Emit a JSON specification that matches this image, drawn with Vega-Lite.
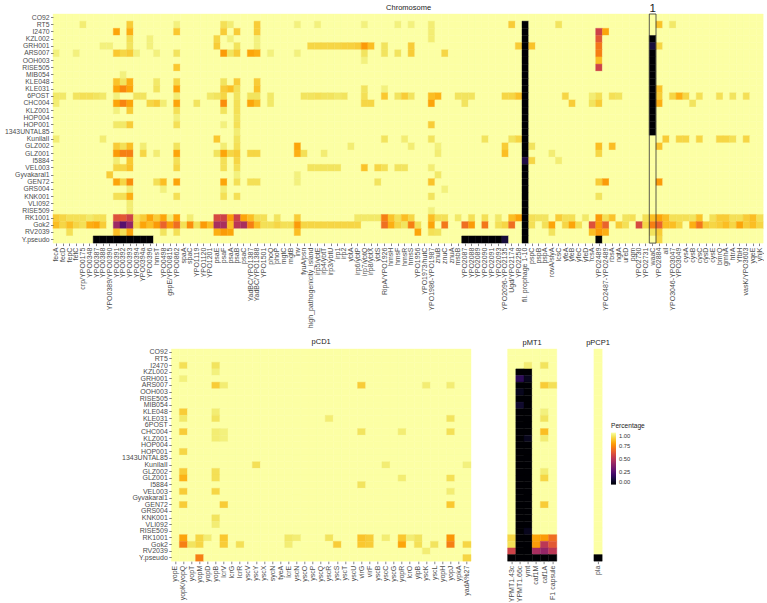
{
"$schema":"https://vega.github.io/schema/vega-lite/v6.json",
"padding":{"left":4,"top":2,"right":0,"bottom":0},
"background":"white",
"config":{
 "font":"Liberation Sans",
 "view":{"stroke":null},
 "axis":{"domain":false,"grid":false,"labelFontSize":7,"labelColor":"#4d4d4d","tickColor":"#333333","tickSize":2.5,"tickWidth":0.6,"labelPadding":1.5,"labelOverlap":false},
 "axisX":{"labelAngle":-90},
 "title":{"fontSize":7.5,"fontWeight":"normal","color":"#1a1a1a","offset":2}
},
"datasets":{
"chrGenes":[{"i":1,"g":"fecA"},{"i":2,"g":"fecD"},{"i":3,"g":"fepC"},{"i":4,"g":"fetC"},{"i":5,"g":"crp/YPO0175"},{"i":6,"g":"YPO0348"},{"i":7,"g":"YPO0387"},{"i":8,"g":"YPO0388"},{"i":9,"g":"YPO0389/YPO0390"},{"i":10,"g":"YPO0391"},{"i":11,"g":"YPO0392"},{"i":12,"g":"YPO0393"},{"i":13,"g":"YPO0394"},{"i":14,"g":"YPO0394a"},{"i":15,"g":"YPO0396"},{"i":16,"g":"hmsT"},{"i":17,"g":"YPO0498"},{"i":18,"g":"gspE/YPO0815"},{"i":19,"g":"YPO0862"},{"i":20,"g":"spaA"},{"i":21,"g":"spaC"},{"i":22,"g":"YPO1119"},{"i":23,"g":"YPO1120"},{"i":24,"g":"YPO1201"},{"i":25,"g":"psaE"},{"i":26,"g":"psaF"},{"i":27,"g":"psaA"},{"i":28,"g":"psaB"},{"i":29,"g":"psaC"},{"i":30,"g":"YadBC/YPO1387"},{"i":31,"g":"YadBC/YPO1388"},{"i":32,"g":"YPO1501"},{"i":33,"g":"phoQ"},{"i":34,"g":"phoP"},{"i":35,"g":"mgtC"},{"i":36,"g":"mgtB"},{"i":37,"g":"inv"},{"i":38,"g":"fyuA/psn"},{"i":39,"g":"high_pathogenicity_island"},{"i":40,"g":"irp5/ybtE"},{"i":41,"g":"irp4/ybtT"},{"i":42,"g":"irp3/ybtU"},{"i":43,"g":"irp1"},{"i":44,"g":"irp2"},{"i":45,"g":"ybtA"},{"i":46,"g":"irp6/ybtP"},{"i":47,"g":"irp7/ybtQ"},{"i":48,"g":"irp8/ybtX"},{"i":49,"g":"ybtS"},{"i":50,"g":"RipA/YPO1926"},{"i":51,"g":"hmsH"},{"i":52,"g":"hmsF"},{"i":53,"g":"hmsR"},{"i":54,"g":"hmsS"},{"i":55,"g":"YPO1956"},{"i":56,"g":"YPO1973/hutC"},{"i":57,"g":"YPO1986-YPO1987"},{"i":58,"g":"znuB"},{"i":59,"g":"znuC"},{"i":60,"g":"znuA"},{"i":61,"g":"msbB"},{"i":62,"g":"YPO2087"},{"i":63,"g":"YPO2088"},{"i":64,"g":"YPO2089"},{"i":65,"g":"YPO2090"},{"i":66,"g":"YPO2091"},{"i":67,"g":"YPO2093"},{"i":68,"g":"YPO2096-YPO2135"},{"i":69,"g":"Ugd/YPO2174"},{"i":70,"g":"YPO2258"},{"i":71,"g":"fil. prophage 1-10"},{"i":72,"g":"pspC"},{"i":73,"g":"pspB"},{"i":74,"g":"pspA"},{"i":75,"g":"rovA/slyA"},{"i":76,"g":"lcsC"},{"i":77,"g":"yfeA"},{"i":78,"g":"yfeB"},{"i":79,"g":"yfeC"},{"i":80,"g":"yfeD"},{"i":81,"g":"rcsA"},{"i":82,"g":"YPO2489"},{"i":83,"g":"YPO2487-YPO2489"},{"i":84,"g":"rbsA"},{"i":85,"g":"ngtA"},{"i":86,"g":"ureD"},{"i":87,"g":"pgm"},{"i":88,"g":"YPO2730"},{"i":89,"g":"YPO2731"},{"i":90,"g":"waaC"},{"i":91,"g":"YPO2884"},{"i":92,"g":"ail"},{"i":93,"g":"YPO3046-YPO3047"},{"i":94,"g":"YPO3049"},{"i":95,"g":"cysA"},{"i":96,"g":"cysB"},{"i":97,"g":"cysC"},{"i":98,"g":"cysD"},{"i":99,"g":"cysE"},{"i":100,"g":"bmrQ"},{"i":101,"g":"gmhA"},{"i":102,"g":"htrA"},{"i":103,"g":"YfbH"},{"i":104,"g":"vasK/YPO3603"},{"i":105,"g":"yqeE"},{"i":106,"g":"yhjK"}],
"chr":[
{"s":"CO92","v":[1,1,1,1,1,1,1,1,1,1,1,1,1,1,1,1,1,1,1,1,1,1,1,1,1,1,1,1,1,1,1,1,1,1,1,1,1,1,1,1,1,1,1,1,1,1,1,1,1,1,1,1,1,1,1,1,1,1,1,1,1,1,1,1,1,1,1,1,1,1,1,1,1,1,1,1,1,1,1,1,1,1,1,1,1,1,1,1,1,1,1,1,1,1,1,1,1,1,1,1,1,1,1,1,1,1]},
{"s":"RT5","v":[1,1,1,1,0.95,1,1,1,1,1, 1,0.88,1,1,1,1,1,1,0.96,1, 1,1,1,1,1,0.92,0.95,1,1,1, 0.88,1,1,1,1,1,0.96,1,1,0.96, 1,1,1,1,1,1,0.96,1,1,1, 1,0.96,1,0.96,1,1,0.95,1,1,1, 1,1,1,1,1,1,1,1,0.88,1, 0,1,1,1,1,0.93,1,1,1,1, 1,1,1,1,1,1,1,1,1,1, 0.86,1,0.94,1,1,1,1,1,1,1, 1,1,1,1,1,1]},
{"s":"I2470","v":[1,1,1,1,1,1,1,1,1,0.8, 1,0.82,1,1,1,1,1,1,0.87,1, 1,1,1,1,1,0.88,1,0.88,1,1, 0.88,1,1,1,1,1,1,1,1,1, 1,1,1,1,1,1,1,1,1,1, 1,1,1,1,1,1,0.95,1,1,1, 1,1,1,1,1,1,1,1,1,1, 0,1,1,1,1,1,1,1,1,1, 1,0.55,0.8,1,1,1,1,1,1,1, 1,1,1,1,1,1,1,1,1,1, 1,1,1,1,1,1]},
{"s":"KZL002","v":[1,1,1,1,1,1,1,1,1,1, 1,0.92,1,1,0.96,1,1,1,1,1, 1,1,1,1,0.9,1,0.96,1,1,1, 0.96,1,1,1,1,1,1,1,1,1, 1,1,1,1,1,1,1,1,1,1, 1,1,1,1,1,1,0.95,1,1,1, 1,1,1,1,1,1,1,1,1,1, 0,1,1,1,1,1,1,1,1,1, 1,0.62,1,1,1,1,1,1,1,0, 1,1,1,1,1,1,1,1,1,1, 1,1,1,1,1,1]},
{"s":"GRH001","v":[1,1,1,1,1,1,1,0.96,0.96,1, 1,0.93,1,1,0.96,1,1,1,1,1, 1,1,1,1,0.88,1,1,0.93,1,1, 0.96,1,1,1,1,1,1,1,0.9,0.9, 0.9,0.9,0.9,0.89,0.89,0.88,0.78,0.85,1,0.93, 1,1,1,0.88,1,1,1,1,1,1, 1,1,1,1,1,1,1,1,1,0.88, 0,0.86,1,1,1,1,1,1,1,1, 1,0.7,1,1,1,1,1,1,1,0.1, 0.9,1,1,1,1,1,1,1,1,1, 1,1,1,1,1,1]},
{"s":"ARS007","v":[0.96,1,1,0.96,1,1,1,1,1,0.87, 0.9,0.88,0.96,1,1,0.96,1,1,0.93,1, 1,1,1,1,1,0.78,0.93,0.88,1,0.8, 0.82,1,0.96,1,1,1,0.96,1,1,1, 1,1,1,1,1,1,0.93,1,1,0.93, 1,0.93,1,0.88,1,1,1,1,0.9,1, 1,1,1,1,1,1,1,1,1,1, 0,1,1,1,1,1,1,1,1,1, 1,0.72,1,1,1,1,1,1,1,0, 1,1,1,1,1,1,1,1,1,1, 1,1,1,1,1,1]},
{"s":"OOH003","v":[1,1,1,1,1,1,1,1,1,1, 1,1,1,1,1,1,1,1,1,1, 1,1,1,1,1,1,1,1,1,1, 1,1,1,1,1,1,1,1,1,1, 1,1,1,1,1,1,0.96,1,1,1, 1,1,1,1,1,1,1,1,1,1, 1,1,1,1,1,1,1,1,1,1, 0,1,1,1,1,1,1,1,1,1, 1,0.85,1,1,1,1,1,1,1,0, 1,1,1,1,1,1,1,1,1,1, 1,1,1,1,1,1]},
{"s":"RISE505","v":[1,1,1,1,1,1,1,1,1,1, 1,1,1,1,1,1,1,1,0.87,1, 1,1,1,1,1,1,1,1,1,1, 1,1,1,1,1,1,1,1,1,1, 1,1,1,1,1,1,1,1,1,1, 1,1,1,1,1,1,1,1,1,1, 1,1,1,1,1,1,1,1,1,1, 0,1,1,1,1,1,1,1,1,1, 1,0.55,1,1,1,1,1,1,1,0, 1,1,1,1,1,1,1,1,1,1, 1,1,1,1,1,1]},
{"s":"MIB054","v":[1,1,1,1,1,1,1,1,1,1, 0.96,1,1,1,1,1,1,1,1,1, 1,1,1,1,1,1,1,1,1,1, 1,1,1,1,1,1,1,1,1,1, 1,1,1,1,1,1,1,1,1,1, 1,1,1,1,1,1,1,1,1,1, 1,1,1,1,1,1,1,1,1,1, 0,1,1,1,1,1,1,1,1,1, 1,1,1,1,1,1,1,1,1,0, 1,1,1,1,1,1,1,1,1,1, 1,1,1,1,1,1]},
{"s":"KLE048","v":[1,1,1,1,1,1,1,1,1,0.86, 0.93,0.82,1,1,1,0.94,1,1,0.9,1, 1,1,1,1,1,0.93,1,0.88,1,1, 0.88,1,1,1,1,1,1,1,1,1, 1,1,1,1,1,1,1,1,1,1, 1,1,1,1,1,1,1,1,1,1, 1,1,1,1,1,1,1,1,1,1, 0,1,1,1,1,1,1,1,1,1, 1,1,1,1,1,1,1,1,1,0, 1,1,1,1,1,1,1,1,1,1, 1,1,1,1,1,1]},
{"s":"KLE031","v":[1,1,1,1,1,1,1,1,1,0.8, 0.74,0.8,1,1,1,0.93,1,1,0.8,1, 1,1,1,1,1,0.88,0.85,0.92,1,1, 0.86,1,1,1,1,1,1,1,1,1, 1,1,1,1,1,1,0.93,1,1,0.96, 1,1,1,1,1,1,1,1,1,1, 1,1,1,1,1,1,1,1,1,1, 0,1,1,1,1,1,1,1,1,1, 1,1,1,1,1,1,1,1,1,0, 0.86,1,1,1,1,1,1,1,1,1, 1,1,1,1,1,1]},
{"s":"6POST","v":[0.94,0.94,1,0.93,0.92,0.92,0.93,0.94,1,0.96, 1,1,0.93,0.93,1,1,1,1,0.95,1, 1,1,1,0.94,0.93,0.9,1,0.93,1,0.93, 0.93,1,0.94,1,1,1,1,0.93,0.93,0.92, 0.93,0.93,0.94,0.93,1,1,0.92,1,1,0.87, 1,0.93,0.88,0.93,1,1,0.85,0.83,1,1, 0.93,0.93,0.93,1,1,1,1,0.9,0.9,0.86, 0,1,1,1,1,1,0.9,1,1,1, 0.95,0.92,1,0.92,0.93,1,1,1,1,0, 0.88,1,0.9,0.82,0.9,1,0.92,1,1,0.92, 1,0.93,1,0.92,1,1]},
{"s":"CHC004","v":[0.95,1,1,1,1,1,1,1,1,0.8, 0.73,0.8,1,1,0.9,0.88,0.95,1,0.8,1, 1,0.93,1,1,1,0.75,1,0.92,1,0.8, 0.85,1,0.94,1,1,1,1,1,1,1, 1,1,1,1,1,1,0.9,0.9,1,1, 1,1,1,1,1,1,0.8,1,1,1, 1,0.93,1,1,1,1,1,1,1,1, 0,1,1,1,1,1,1,0.88,1,1, 0.93,0.88,1,1,1,1,1,1,1,0, 0.82,1,1,1,1,0.93,1,1,1,1, 1,1,1,1,1,1]},
{"s":"KLZ001","v":[1,1,1,1,1,1,1,1,1,0.96, 1,0.88,1,1,1,1,1,1,0.92,1, 1,1,1,1,1,0.93,1,0.92,1,1, 1,1,1,1,1,1,1,1,1,1, 1,1,1,1,1,1,1,1,1,1, 1,1,1,1,1,1,1,1,1,1, 1,1,1,1,1,1,1,1,1,1, 0,1,1,1,1,1,1,1,1,1, 1,1,1,1,1,1,1,1,1,0, 1,1,1,1,1,1,1,1,1,1, 1,1,1,1,1,1]},
{"s":"HOP004","v":[1,1,1,1,1,1,1,1,1,1, 1,1,1,1,1,1,1,1,0.96,1, 1,1,1,1,1,1,1,0.93,1,1, 1,1,1,1,1,1,1,1,1,1, 1,1,1,1,1,1,1,1,1,1, 1,1,1,1,1,1,1,1,1,1, 1,1,1,1,1,1,1,1,1,1, 0,1,1,1,1,1,1,1,1,1, 1,1,1,1,1,1,1,1,1,0, 1,1,1,1,1,1,1,1,1,1, 1,1,1,1,1,1]},
{"s":"HOP001","v":[1,1,1,1,1,1,1,1,1,0.94, 0.94,0.88,1,1,1,1,1,1,0.92,1, 1,1,1,1,1,0.96,1,0.92,1,1, 1,1,1,1,1,1,1,1,1,1, 1,1,1,1,1,1,1,1,1,1, 1,1,1,1,1,1,0.88,1,1,1, 1,1,1,1,1,1,1,1,1,1, 0,1,1,1,1,1,1,1,1,1, 1,1,1,1,1,1,1,1,1,0, 1,1,1,1,1,1,1,1,1,1, 1,1,1,1,1,1]},
{"s":"1343UNTAL85","v":[1,1,1,1,1,1,1,1,1,1, 1,1,1,1,1,1,1,1,1,1, 1,1,1,1,1,1,1,0.95,1,1, 1,1,1,1,1,1,1,1,1,1, 1,1,1,1,1,1,1,1,1,1, 1,1,1,1,1,1,1,1,1,1, 1,1,1,1,1,1,1,1,1,1, 0,1,1,1,1,1,1,1,1,1, 1,1,1,1,1,1,1,1,1,0, 1,1,1,1,1,1,1,1,1,1, 1,1,1,1,1,1]},
{"s":"KunilaII","v":[0.95,1,1,1,1,1,1,0.95,1,1, 1,1,1,1,1,1,1,1,1,1, 1,1,1,1,0.87,1,1,0.93,1,1, 1,1,1,1,1,1,1,1,1,1, 1,1,1,1,1,1,1,1,1,0.93, 1,1,0.95,1,1,1,0.93,1,1,1, 1,1,1,1,0.93,1,1,1,0.93,0.9, 0,1,1,1,1,1,1,1,1,1, 1,1,1,1,1,1,1,1,1,1, 1,0.88,1,0.9,0.9,1,0.9,1,1,0.9, 0.9,0.92,1,0.9,1,1]},
{"s":"GLZ002","v":[1,1,1,1,1,1,1,1,1,0.88, 0.92,0.85,1,0.95,1,1,1,1,0.93,1, 1,1,1,1,1,0.95,1,0.92,1,1, 1,1,1,1,1,1,0.8,1,1,1, 1,1,1,1,0.95,1,1,1,1,1, 1,1,1,0.95,1,1,1,0.96,1,1, 1,1,1,1,1,1,1,0.88,1,1, 0,0.93,1,1,1,1,1,1,1,1, 1,0.85,1,0.85,1,1,1,1,1,1, 0.86,1,1,1,1,1,1,1,1,1, 1,1,1,1,1,1]},
{"s":"GLZ001","v":[1,1,1,1,1,1,1,1,1,0.78, 0.72,0.72,1,0.9,1,0.95,1,1,0.8,1, 1,1,1,1,0.93,0.8,0.9,0.88,1,0.9, 0.9,1,1,1,1,1,0.82,0.92,1,1, 0.95,1,1,1,1,1,1,1,1,1, 1,1,1,1,1,1,1,0.95,1,1, 1,1,1,1,1,1,1,0.85,1,1, 0,1,1,1,0.95,1,1,1,1,1, 1,0.9,1,1,1,1,1,1,1,1, 1,1,1,1,1,1,1,1,1,1, 1,1,1,1,1,1]},
{"s":"I5884","v":[1,1,1,1,1,1,1,1,1,0.95, 1,0.87,1,1,1,1,1,1,0.92,1, 1,1,1,1,1,0.92,1,0.9,1,1, 1,1,1,1,1,1,1,1,1,1, 1,1,1,1,1,1,1,1,1,1, 1,1,1,1,1,1,1,1,1,1, 1,1,1,1,1,1,1,1,1,1, 0.12,0.9,1,1,1,0.95,1,1,1,1, 1,1,1,1,1,1,1,1,1,1, 1,1,1,1,1,1,1,1,1,1, 1,1,1,1,1,1]},
{"s":"VEL003","v":[1,1,1,1,1,1,1,1,1,0.9, 0.9,0.86,1,1,1,1,1,1,0.9,1, 1,1,1,1,1,0.92,1,0.92,1,1, 1,1,1,1,1,1,1,1,0.93,0.93, 0.93,0.93,0.93,1,1,1,0.86,1,0.9,0.92, 1,0.93,0.93,1,1,1,0.95,1,1,1, 1,1,1,1,1,1,1,1,1,1, 0,1,1,1,1,1,1,1,1,1, 1,1,1,1,1,1,1,1,1,1, 1,1,1,1,1,1,1,1,1,1, 1,1,1,1,1,1]},
{"s":"Gyvakaral1","v":[1,1,1,1,1,1,1,1,0.88,1, 1,1,1,1,1,1,1,1,1,1, 1,1,1,1,1,1,1,0.96,1,1, 1,1,1,1,1,1,0.96,1,1,1, 1,1,1,1,1,1,1,1,1,1, 1,1,1,1,1,1,1,0.94,1,1, 1,1,1,1,1,1,1,1,1,1, 0,1,1,1,1,1,1,1,1,1, 1,1,1,1,1,1,1,1,1,1, 1,1,1,1,1,1,1,1,1,1, 1,1,1,1,1,1]},
{"s":"GEN72","v":[1,1,1,1,1,1,1,1,1,0.8, 0.9,0.75,1,1,1,0.92,0.85,1,0.8,1, 1,1,1,1,1,0.8,1,0.92,1,0.92, 0.92,1,1,1,1,1,0.96,1,1,1, 1,1,1,1,1,1,1,1,0.93,1, 1,1,1,1,1,1,0.86,1,1,1, 1,1,1,1,1,1,1,1,1,1, 0,1,1,1,1,1,1,1,1,1, 1,0.88,0.78,1,1,1,1,1,1,1, 0.78,1,1,1,1,1,1,1,1,1, 1,1,1,1,1,1]},
{"s":"GRS004","v":[1,1,1,1,1,1,1,1,1,1, 1,0.95,1,1,1,1,0.96,1,1,1, 1,1,1,1,1,0.95,1,1,1,1, 1,1,1,1,1,1,1,1,1,1, 1,1,1,1,1,1,1,1,1,1, 1,1,1,1,1,1,1,1,0.96,1, 1,1,1,1,1,1,1,1,1,1, 0,1,1,1,1,1,1,1,1,1, 1,1,1,1,1,1,1,1,1,1, 1,1,1,1,1,1,1,1,1,1, 1,1,1,1,1,1]},
{"s":"KNK001","v":[1,1,1,1,1,1,1,1,1,0.92, 0.92,0.82,1,1,1,1,1,1,0.92,1, 1,1,1,1,1,0.92,1,0.92,1,1, 1,1,1,1,1,1,1,1,1,1, 1,1,1,1,1,1,1,1,1,1, 1,1,1,1,1,1,0.93,1,1,1, 1,1,1,1,1,1,1,1,1,1, 0,1,1,1,1,1,1,1,1,1, 1,0.93,1,1,1,1,1,1,1,1, 1,1,1,1,1,1,1,1,1,1, 1,1,1,1,1,1]},
{"s":"VLI092","v":[1,1,1,1,1,1,1,1,1,1, 1,0.95,1,1,1,1,1,1,1,1, 1,1,1,1,1,1,1,1,1,1, 1,1,1,1,1,1,1,1,1,1, 1,1,1,1,1,1,1,1,1,1, 1,1,1,1,1,1,1,1,1,1, 1,1,1,1,1,1,1,1,1,1, 0,1,1,1,1,1,1,1,1,1, 1,1,1,1,1,1,1,1,1,1, 1,1,1,1,1,1,1,1,1,1, 1,1,1,1,1,1]},
{"s":"RISE509","v":[1,1,1,1,1,1,1,1,1,1, 1,0.95,1,1,1,1,1,1,1,1, 1,1,1,1,1,1,1,1,1,1, 1,1,1,1,1,1,1,1,1,1, 1,1,1,1,1,1,1,1,1,1, 1,1,1,1,1,1,0.96,1,1,1, 1,1,1,1,1,1,1,1,1,1, 0,1,1,1,1,1,1,1,1,1, 1,1,1,1,1,1,1,1,1,1, 1,1,1,1,1,1,1,1,1,1, 1,1,1,1,1,1]},
{"s":"RK1001","v":[0.88,0.9,0.92,0.92,0.92,0.94,0.92,0.92,1,0.6, 0.62,0.55,0.92,0.88,0.8,0.88,0.8,0.95,0.8,1, 0.95,1,1,1,0.58,0.55,0.78,0.55,0.8,0.85, 0.92,0.92,1,0.93,1,1,0.88,1,1,1, 1,1,1,1,1,0.94,0.94,0.94,0.94,0.72, 0.86,0.92,0.85,0.9,1,1,0.85,0.92,0.92,1, 0.94,1,0.92,1,0.92,1,0.94,1,0.85,0.8, 0,0.92,0.93,0.93,1,0.88,0.92,0.92,1,0.94, 1,0.78,0.92,0.86,1,0.93,0.92,1,0.92,0.85, 0.8,0.85,0.92,0.92,0.92,0.93,0.86,1,0.92,0.88, 0.88,0.92,0.92,0.88,0.85,0.92]},
{"s":"Gok2","v":[0.85,0.9,0.85,0.9,0.92,0.82,0.8,0.88,1,0.42, 0.25,0.4,0.9,0.8,0.85,0.78,0.65,0.78,0.68,0.92, 0.75,0.92,0.78,0.85,0.45,0.45,0.85,0.5,0.45,0.72, 0.85,0.92,0.92,0.9,0.92,0.92,0.78,0.9,0.9,0.9, 0.9,0.9,0.9,0.9,0.9,0.9,1,1,1,0.68, 0.82,0.9,0.93,0.72,0.92,1,0.8,1,0.7,1, 1,0.68,0.78,1,0.7,1,0.92,0.9,0.68,1, 0,0.92,1,0.92,0.8,1,0.9,0.8,0.92,1, 0.6,0.78,0.65,1,0.88,0.92,1,0.58,0.9,0.72, 0.65,0.85,0.85,0.9,1,0.82,0.7,0.88,0.9,0.88, 0.85,0.9,0.8,0.88,0.85,0.9]},
{"s":"RV2039","v":[1,1,0.92,1,1,1,1,1,1,0.85, 0.92,0.8,1,1,1,1,0.93,1,0.92,1, 1,1,1,1,0.82,0.78,0.8,1,1,1, 1,1,1,1,1,1,0.85,1,1,1, 1,1,1,1,1,1,1,1,1,1, 1,1,1,1,0.8,1,0.92,0.93,1,1, 1,1,1,1,1,1,1,1,1,1, 0,1,1,1,0.93,1,1,1,1,1, 0.85,0.78,0.82,1,1,1,1,1,1,0.93, 0.88,1,1,1,1,1,1,1,1,1, 1,1,1,1,1,1]},
{"s":"Y.pseudo","v":[1,1,1,1,1,1,0,0,0,0, 0,0,0,0,0,1,1,1,1,1, 1,1,1,1,1,1,1,1,1,1, 1,1,1,1,1,1,1,1,1,1, 1,1,1,1,1,1,1,1,1,1, 1,1,1,1,1,1,1,1,1,1, 1,0,0,0,0,0,0,0.1,1,1, 0,1,1,1,1,1,1,1,1,1, 1,0,1,1,1,1,1,1,1,1, 0.9,1,1,1,1,1,1,1,1,1, 1,1,1,1,1,1]}
],
"pcd1Genes":[{"i":1,"g":"yopE"},{"i":2,"g":"yopK/yopQ"},{"i":3,"g":"yopT"},{"i":4,"g":"yopM"},{"i":5,"g":"yopD"},{"i":6,"g":"yopB"},{"i":7,"g":"lcrV"},{"i":8,"g":"lcrG"},{"i":9,"g":"lcrR"},{"i":10,"g":"yscV"},{"i":11,"g":"yscY"},{"i":12,"g":"yscX"},{"i":13,"g":"sycN"},{"i":14,"g":"tyeA"},{"i":15,"g":"lcrE"},{"i":16,"g":"yscN"},{"i":17,"g":"yscO"},{"i":18,"g":"yscP"},{"i":19,"g":"yscQ"},{"i":20,"g":"yscR"},{"i":21,"g":"yscS"},{"i":22,"g":"yscT"},{"i":23,"g":"yscU"},{"i":24,"g":"virG"},{"i":25,"g":"virF"},{"i":26,"g":"yscB"},{"i":27,"g":"yscC"},{"i":28,"g":"yscG"},{"i":29,"g":"yopR"},{"i":30,"g":"lcrO"},{"i":31,"g":"ylpB"},{"i":32,"g":"yscK"},{"i":33,"g":"yscL"},{"i":34,"g":"yopH"},{"i":35,"g":"yopJ"},{"i":36,"g":"ypkA"},{"i":37,"g":"yadA%27"}],
"pcd1":[
{"s":"CO92","v":[1,1,1,1,1,1,1,1,1,1, 1,1,1,1,1,1,1,1,1,1, 1,1,1,1,1,1,1,1,1,1, 1,1,1,1,1,1,1]},
{"s":"RT5","v":[1,1,1,1,1,1,1,1,1,1, 1,1,1,1,1,1,1,1,1,1, 1,1,1,1,1,1,1,1,1,1, 1,1,1,1,1,1,1]},
{"s":"I2470","v":[1,0.92,1,1,1,0.93,1,1,1,1, 1,1,1,1,1,1,1,1,1,1, 1,1,1,1,1,1,1,1,1,1, 1,1,1,1,1,1,1]},
{"s":"KZL002","v":[1,1,1,1,1,0.96,1,1,1,1, 1,1,1,1,1,1,1,1,1,1, 1,1,1,1,1,1,1,1,1,1, 1,1,1,1,1,1,1]},
{"s":"GRH001","v":[1,0.96,1,1,1,1,1,1,1,1, 1,1,1,1,1,1,1,1,1,1, 1,1,1,1,1,1,1,1,1,1, 1,1,1,1,1,1,1]},
{"s":"ARS007","v":[1,1,1,1,1,0.88,0.95,1,1,1, 1,1,1,1,1,1,1,1,1,1, 1,1,1,0.88,1,1,1,1,1,1, 1,0.95,1,1,0.95,1,1]},
{"s":"OOH003","v":[1,1,1,1,1,1,1,1,1,1, 1,1,1,1,1,1,1,1,1,1, 1,1,1,1,1,1,1,1,1,1, 1,1,1,1,1,1,1]},
{"s":"RISE505","v":[1,1,1,1,1,1,1,1,1,1, 1,1,1,1,1,1,1,1,1,1, 1,1,1,1,1,1,1,1,1,1, 1,1,1,1,1,1,1]},
{"s":"MIB054","v":[1,1,1,1,1,1,1,1,1,1, 1,1,1,1,1,1,1,1,1,1, 1,1,1,1,1,1,1,1,1,1, 1,1,1,1,1,1,1]},
{"s":"KLE048","v":[1,0.88,1,1,1,0.95,1,1,1,1, 1,1,1,1,1,1,1,1,1,1, 1,1,1,1,1,1,1,1,1,1, 1,1,1,1,1,1,1]},
{"s":"KLE031","v":[1,0.94,1,1,1,0.93,1,1,1,1, 1,1,1,1,1,1,1,1,1,0.95, 1,1,1,1,1,1,1,1,1,1, 1,1,1,1,0.93,1,1]},
{"s":"6POST","v":[1,1,1,1,1,1,1,1,1,1, 1,1,1,1,1,1,1,1,1,1, 1,1,1,1,1,1,1,1,1,1, 1,1,1,1,1,1,1]},
{"s":"CHC004","v":[1,0.88,1,1,1,0.95,0.96,1,1,1, 1,1,1,1,1,1,1,1,1,1, 1,1,1,0.93,1,1,1,1,0.95,1, 1,1,1,1,0.92,1,1]},
{"s":"KLZ001","v":[1,1,1,1,1,0.95,0.96,1,1,1, 1,1,1,1,1,1,1,1,1,1, 1,1,1,1,1,1,1,1,1,1, 1,1,1,1,1,1,1]},
{"s":"HOP004","v":[1,1,1,1,1,1,1,1,1,1, 1,1,1,1,1,1,1,1,1,1, 1,1,1,1,1,1,1,1,1,1, 1,1,1,1,1,1,1]},
{"s":"HOP001","v":[1,0.9,1,1,1,1,1,1,1,1, 1,1,1,1,1,1,1,1,1,1, 1,1,1,1,1,1,1,1,1,1, 1,1,1,1,1,1,1]},
{"s":"1343UNTAL85","v":[1,1,1,1,1,1,1,1,1,1, 1,1,1,1,1,1,1,1,1,1, 1,1,1,1,1,1,1,1,1,1, 1,1,1,1,1,1,1]},
{"s":"KunilaII","v":[1,1,1,1,1,1,1,1,1,1, 0.92,1,1,1,1,1,1,1,1,1, 1,1,1,1,1,1,0.95,1,1,1, 1,1,1,1,1,1,0.96]},
{"s":"GLZ002","v":[1,0.88,1,1,1,0.92,1,1,1,1, 1,1,1,1,1,1,1,1,1,1, 1,1,1,1,1,1,1,1,1,1, 1,1,1,1,1,1,1]},
{"s":"GLZ001","v":[1,0.83,1,1,1,0.92,1,1,1,1, 1,1,1,1,1,1,1,1,1,1, 1,1,1,1,1,1,1,1,0.95,1, 1,1,1,1,0.92,1,1]},
{"s":"I5884","v":[1,1,1,1,1,1,1,1,1,1, 1,1,1,1,1,1,1,1,1,1, 1,1,1,0.93,1,1,1,1,1,1, 1,1,1,1,1,1,1]},
{"s":"VEL003","v":[1,0.88,1,1,1,0.9,1,1,1,1, 1,1,1,1,1,1,1,1,1,1, 1,1,1,1,1,1,1,1,1,1, 1,1,1,1,0.95,1,1]},
{"s":"Gyvakaral1","v":[1,1,1,1,1,1,1,1,1,1, 1,1,1,1,1,1,1,1,1,1, 1,1,1,1,1,1,1,1,1,1, 1,1,1,1,1,1,1]},
{"s":"GEN72","v":[1,0.88,1,1,1,1,0.88,1,1,1, 1,1,1,1,1,1,1,1,1,1, 1,1,1,1,1,1,1,1,1,1, 1,1,1,1,0.87,1,1]},
{"s":"GRS004","v":[1,1,1,1,1,1,1,1,1,1, 1,1,1,1,1,1,1,1,1,1, 1,1,1,1,1,1,1,1,1,1, 1,1,1,1,1,1,1]},
{"s":"KNK001","v":[1,1,1,1,1,0.93,1,1,1,1, 1,1,1,1,1,1,1,1,1,1, 1,1,1,1,1,1,1,1,1,1, 1,1,1,1,1,1,1]},
{"s":"VLI092","v":[1,1,1,1,1,0.95,1,1,1,1, 1,1,1,1,1,1,1,1,1,1, 1,1,1,1,1,1,1,1,1,1, 1,1,1,1,1,1,1]},
{"s":"RISE509","v":[1,1,1,1,1,1,1,1,1,1, 1,1,1,1,1,1,1,1,1,1, 1,1,1,1,1,1,1,1,1,1, 1,1,1,1,1,1,1]},
{"s":"RK1001","v":[1,0.8,1,0.9,0.95,1,0.87,1,1,1, 1,1,1,1,0.94,0.95,1,1,1,0.93, 1,1,1,0.86,0.88,1,0.95,1,0.87,0.95, 0.93,1,1,1,0.77,1,1]},
{"s":"Gok2","v":[1,0.72,0.93,0.9,1,1,0.88,1,0.92,1, 1,1,1,1,0.95,1,1,1,1,1, 0.88,1,1,0.87,0.88,1,1,1,0.8,1, 0.92,1,0.93,1,0.72,1,0.9]},
{"s":"RV2039","v":[1,1,1,1,1,1,1,1,1,1, 1,1,1,1,1,1,1,1,1,1, 1,1,1,1,1,1,1,1,1,1, 1,0.95,1,1,1,1,1]},
{"s":"Y.pseudo","v":[1,1,1,0.72,1,1,1,1,1,1, 1,1,1,1,1,1,1,1,1,1, 1,1,1,1,1,1,1,1,1,1, 1,1,1,1,1,1,0.9]}
],
"pmt1Genes":[{"i":1,"g":"YPMT1.43c"},{"i":2,"g":"YPMT1.66c"},{"i":3,"g":"ymt"},{"i":4,"g":"caf1M"},{"i":5,"g":"caf1A"},{"i":6,"g":"F1 capsule"}],
"pmt1":[
{"s":"CO92","v":[1,1,1,1,1,1]},
{"s":"RT5","v":[1,1,1,1,1,1]},
{"s":"I2470","v":[1,1,0.95,1,0.93,1]},
{"s":"KZL002","v":[1,0,0,1,1,1]},
{"s":"GRH001","v":[1,0.15,0.05,1,1,1]},
{"s":"ARS007","v":[1,0,0,1,0.88,0.92]},
{"s":"OOH003","v":[1,0.05,0,1,1,1]},
{"s":"RISE505","v":[1,0,0,1,1,1]},
{"s":"MIB054","v":[1,0.08,0,1,1,1]},
{"s":"KLE048","v":[1,0,0,1,0.96,1]},
{"s":"KLE031","v":[1,0,0,1,0.93,1]},
{"s":"6POST","v":[1,0,0,1,1,1]},
{"s":"CHC004","v":[1,0,0,1,0.85,1]},
{"s":"KLZ001","v":[1,0,0.05,1,0.95,1]},
{"s":"HOP004","v":[1,0,0,1,1,1]},
{"s":"HOP001","v":[1,0,0,1,1,1]},
{"s":"1343UNTAL85","v":[1,0,0,1,1,1]},
{"s":"KunilaII","v":[1,0,0,1,1,1]},
{"s":"GLZ002","v":[1,0,0,1,0.95,1]},
{"s":"GLZ001","v":[1,0,0,1,0.9,1]},
{"s":"I5884","v":[1,0,0,1,1,1]},
{"s":"VEL003","v":[1,0,0,1,1,1]},
{"s":"Gyvakaral1","v":[1,0,0,1,1,1]},
{"s":"GEN72","v":[1,0,0,1,0.88,1]},
{"s":"GRS004","v":[1,0,0,1,1,1]},
{"s":"KNK001","v":[1,0,0,1,1,1]},
{"s":"VLI092","v":[1,0,0,1,1,1]},
{"s":"RISE509","v":[1,0,0.05,1,1,1]},
{"s":"RK1001","v":[0.9,0,0,0.8,0.78,0.68]},
{"s":"Gok2","v":[0.92,0,0,0.78,0.5,0.62]},
{"s":"RV2039","v":[0.55,0,0,0.45,0.4,0.5]},
{"s":"Y.pseudo","v":[0,0,0,0,0,0]}
],
"pcp1":[
{"s":"CO92","g":"pla","v":1},{"s":"RT5","g":"pla","v":1},{"s":"I2470","g":"pla","v":1},{"s":"KZL002","g":"pla","v":1},{"s":"GRH001","g":"pla","v":1},{"s":"ARS007","g":"pla","v":1},{"s":"OOH003","g":"pla","v":1},{"s":"RISE505","g":"pla","v":1},{"s":"MIB054","g":"pla","v":1},{"s":"KLE048","g":"pla","v":1},{"s":"KLE031","g":"pla","v":1},{"s":"6POST","g":"pla","v":1},{"s":"CHC004","g":"pla","v":1},{"s":"KLZ001","g":"pla","v":1},{"s":"HOP004","g":"pla","v":1},{"s":"HOP001","g":"pla","v":1},{"s":"1343UNTAL85","g":"pla","v":1},{"s":"KunilaII","g":"pla","v":1},{"s":"GLZ002","g":"pla","v":1},{"s":"GLZ001","g":"pla","v":1},{"s":"I5884","g":"pla","v":1},{"s":"VEL003","g":"pla","v":1},{"s":"Gyvakaral1","g":"pla","v":1},{"s":"GEN72","g":"pla","v":1},{"s":"GRS004","g":"pla","v":1},{"s":"KNK001","g":"pla","v":1},{"s":"VLI092","g":"pla","v":1},{"s":"RISE509","g":"pla","v":1},{"s":"RK1001","g":"pla","v":1},{"s":"Gok2","g":"pla","v":1},{"s":"RV2039","g":"pla","v":1},{"s":"Y.pseudo","g":"pla","v":0}
]
},
"resolve":{"scale":{"color":"shared","stroke":"shared"}},
"spacing":10,
"vconcat":[
{
 "width":710.2,"height":229.1,
 "resolve":{"axis":{"x":"independent"}},
 "layer":[
  {
   "data":{"name":"chr"},
   "transform":[
    {"flatten":["v"]},
    {"window":[{"op":"row_number","as":"i"}],"groupby":["s"]},
    {"lookup":"i","from":{"data":{"name":"chrGenes"},"key":"i","fields":["g"]}}
   ],
   "mark":{"type":"rect","strokeWidth":0.4},
   "encoding":{
    "x":{"field":"g","type":"nominal","title":null,"scale":{"paddingInner":0,"paddingOuter":0,"domain":["fecA","fecD","fepC","fetC","crp/YPO0175","YPO0348","YPO0387","YPO0388","YPO0389/YPO0390","YPO0391","YPO0392","YPO0393","YPO0394","YPO0394a","YPO0396","hmsT","YPO0498","gspE/YPO0815","YPO0862","spaA","spaC","YPO1119","YPO1120","YPO1201","psaE","psaF","psaA","psaB","psaC","YadBC/YPO1387","YadBC/YPO1388","YPO1501","phoQ","phoP","mgtC","mgtB","inv","fyuA/psn","high_pathogenicity_island","irp5/ybtE","irp4/ybtT","irp3/ybtU","irp1","irp2","ybtA","irp6/ybtP","irp7/ybtQ","irp8/ybtX","ybtS","RipA/YPO1926","hmsH","hmsF","hmsR","hmsS","YPO1956","YPO1973/hutC","YPO1986-YPO1987","znuB","znuC","znuA","msbB","YPO2087","YPO2088","YPO2089","YPO2090","YPO2091","YPO2093","YPO2096-YPO2135","Ugd/YPO2174","YPO2258","fil. prophage 1-10","pspC","pspB","pspA","rovA/slyA","lcsC","yfeA","yfeB","yfeC","yfeD","rcsA","YPO2489","YPO2487-YPO2489","rbsA","ngtA","ureD","pgm","YPO2730","YPO2731","waaC","YPO2884","ail","YPO3046-YPO3047","YPO3049","cysA","cysB","cysC","cysD","cysE","bmrQ","gmhA","htrA","YfbH","vasK/YPO3603","yqeE","yhjK"]},"axis":{"labelAngle":-90}},
    "y":{"field":"s","type":"nominal","title":null,"scale":{"paddingInner":0,"paddingOuter":0,"domain":["CO92","RT5","I2470","KZL002","GRH001","ARS007","OOH003","RISE505","MIB054","KLE048","KLE031","6POST","CHC004","KLZ001","HOP004","HOP001","1343UNTAL85","KunilaII","GLZ002","GLZ001","I5884","VEL003","Gyvakaral1","GEN72","GRS004","KNK001","VLI092","RISE509","RK1001","Gok2","RV2039","Y.pseudo"]},"axis":{"labelFontSize":6.8,"minExtent":48.5,"maxExtent":48.5}},
    "color":{"field":"v","type":"quantitative","title":"Percentage","scale":{"scheme":"inferno","domain":[0,1]},"legend":{"type":"gradient","direction":"vertical","orient":"none","legendX":558,"legendY":409,"format":".2f","values":[0,0.25,0.5,0.75,1],"gradientLength":52,"gradientThickness":5,"titleFontSize":6.6,"titleFontWeight":"normal","titleColor":"#1a1a1a","titlePadding":3,"labelFontSize":5.8,"labelColor":"#333333","labelOffset":3,"padding":0}},
    "stroke":{"field":"v","type":"quantitative","scale":{"scheme":"inferno","domain":[0,1.000001]},"legend":null}
   }
  },
  {
   "data":{"values":[{"g":"waaC"}]},
   "mark":{"type":"rect","filled":false,"stroke":"#333333","strokeWidth":0.8},
   "encoding":{
    "x":{"field":"g","type":"nominal","title":"Chromosome","axis":{"orient":"top","values":["waaC"],"labelExpr":"'1'","labelAngle":0,"labelFontSize":11.5,"labelColor":"#1a1a1a","labelPadding":1,"labelBaseline":"bottom","ticks":false,"titleFontSize":7.5,"titleFontWeight":"normal","titleColor":"#1a1a1a","titleY":-4.5,"titleBaseline":"alphabetic","titleAnchor":"middle"}}
   }
  }
 ]
},
{
 "bounds":"flush",
 "spacing":36.3,
 "hconcat":[
  {
   "width":81.2,"height":212.2,
   "data":{"values":[]},
   "mark":{"type":"rect","opacity":0},
   "encoding":{}
  },
  {
   "title":"pCD1",
   "width":299.7,"height":212.2,
   "data":{"name":"pcd1"},
   "transform":[
    {"flatten":["v"]},
    {"window":[{"op":"row_number","as":"i"}],"groupby":["s"]},
    {"lookup":"i","from":{"data":{"name":"pcd1Genes"},"key":"i","fields":["g"]}}
   ],
   "mark":{"type":"rect","strokeWidth":0.4},
   "encoding":{
    "x":{"field":"g","type":"nominal","title":null,"sort":{"field":"i","op":"min"},"scale":{"paddingInner":0,"paddingOuter":0}},
    "y":{"field":"s","type":"nominal","title":null,"scale":{"paddingInner":0,"paddingOuter":0,"domain":["CO92","RT5","I2470","KZL002","GRH001","ARS007","OOH003","RISE505","MIB054","KLE048","KLE031","6POST","CHC004","KLZ001","HOP004","HOP001","1343UNTAL85","KunilaII","GLZ002","GLZ001","I5884","VEL003","Gyvakaral1","GEN72","GRS004","KNK001","VLI092","RISE509","RK1001","Gok2","RV2039","Y.pseudo"]}},
    "color":{"field":"v","type":"quantitative","title":"Percentage","scale":{"scheme":"inferno","domain":[0,1]},"legend":{"type":"gradient","direction":"vertical","orient":"none","legendX":558,"legendY":409,"format":".2f","values":[0,0.25,0.5,0.75,1],"gradientLength":52,"gradientThickness":5,"titleFontSize":6.6,"titleFontWeight":"normal","titleColor":"#1a1a1a","titlePadding":3,"labelFontSize":5.8,"labelColor":"#333333","labelOffset":3,"padding":0}},
    "stroke":{"field":"v","type":"quantitative","scale":{"scheme":"inferno","domain":[0,1.000001]},"legend":null}
   }
  },
  {
   "title":"pMT1",
   "width":49.2,"height":212.2,
   "data":{"name":"pmt1"},
   "transform":[
    {"flatten":["v"]},
    {"window":[{"op":"row_number","as":"i"}],"groupby":["s"]},
    {"lookup":"i","from":{"data":{"name":"pmt1Genes"},"key":"i","fields":["g"]}}
   ],
   "mark":{"type":"rect","strokeWidth":0.4},
   "encoding":{
    "x":{"field":"g","type":"nominal","title":null,"sort":{"field":"i","op":"min"},"scale":{"paddingInner":0,"paddingOuter":0}},
    "y":{"field":"s","type":"nominal","title":null,"scale":{"paddingInner":0,"paddingOuter":0,"domain":["CO92","RT5","I2470","KZL002","GRH001","ARS007","OOH003","RISE505","MIB054","KLE048","KLE031","6POST","CHC004","KLZ001","HOP004","HOP001","1343UNTAL85","KunilaII","GLZ002","GLZ001","I5884","VEL003","Gyvakaral1","GEN72","GRS004","KNK001","VLI092","RISE509","RK1001","Gok2","RV2039","Y.pseudo"]},"axis":null},
    "color":{"field":"v","type":"quantitative","title":"Percentage","scale":{"scheme":"inferno","domain":[0,1]},"legend":{"type":"gradient","direction":"vertical","orient":"none","legendX":558,"legendY":409,"format":".2f","values":[0,0.25,0.5,0.75,1],"gradientLength":52,"gradientThickness":5,"titleFontSize":6.6,"titleFontWeight":"normal","titleColor":"#1a1a1a","titlePadding":3,"labelFontSize":5.8,"labelColor":"#333333","labelOffset":3,"padding":0}},
    "stroke":{"field":"v","type":"quantitative","scale":{"scheme":"inferno","domain":[0,1.000001]},"legend":null}
   }
  },
  {
   "title":"pPCP1",
   "width":8.3,"height":212.2,
   "data":{"name":"pcp1"},
   "mark":{"type":"rect","strokeWidth":0.4},
   "encoding":{
    "x":{"field":"g","type":"nominal","title":null,"scale":{"paddingInner":0,"paddingOuter":0}},
    "y":{"field":"s","type":"nominal","title":null,"scale":{"paddingInner":0,"paddingOuter":0,"domain":["CO92","RT5","I2470","KZL002","GRH001","ARS007","OOH003","RISE505","MIB054","KLE048","KLE031","6POST","CHC004","KLZ001","HOP004","HOP001","1343UNTAL85","KunilaII","GLZ002","GLZ001","I5884","VEL003","Gyvakaral1","GEN72","GRS004","KNK001","VLI092","RISE509","RK1001","Gok2","RV2039","Y.pseudo"]},"axis":null},
    "color":{"field":"v","type":"quantitative","title":"Percentage","scale":{"scheme":"inferno","domain":[0,1]},"legend":{"type":"gradient","direction":"vertical","orient":"none","legendX":558,"legendY":409,"format":".2f","values":[0,0.25,0.5,0.75,1],"gradientLength":52,"gradientThickness":5,"titleFontSize":6.6,"titleFontWeight":"normal","titleColor":"#1a1a1a","titlePadding":3,"labelFontSize":5.8,"labelColor":"#333333","labelOffset":3,"padding":0}},
    "stroke":{"field":"v","type":"quantitative","scale":{"scheme":"inferno","domain":[0,1.000001]},"legend":null}
   }
  }
 ]
}
]
}
